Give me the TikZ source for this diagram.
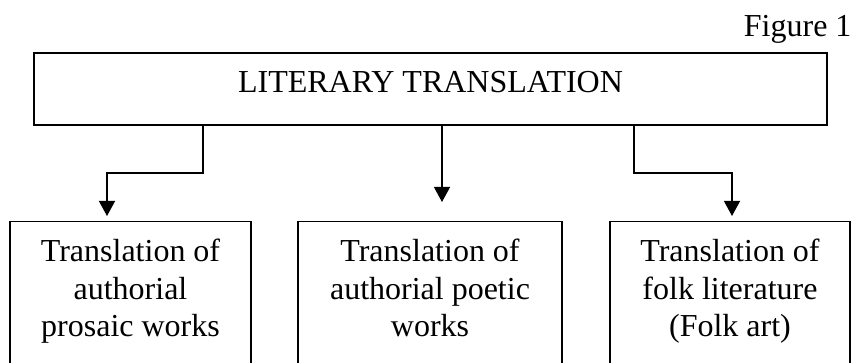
\documentclass[tikz,border=0pt]{standalone}
\usepackage{fontspec}
\setmainfont{Liberation Serif}
\usetikzlibrary{arrows.meta}

\begin{document}
\begin{tikzpicture}[x=1pt, y=-1pt, font=\fontsize{32}{37.5}\selectfont,
        box/.style={draw, line width=1.4pt, align=center, inner sep=0pt},
        arr/.style={line width=1.3pt, -{Triangle[width=16pt,length=15pt]}}]
        \clip (0,0) rectangle (858,363);
        \useasboundingbox (0,0) rectangle (858,363);
        \node[anchor=base east] (fig) at (855,37) {Figure 1};
        \node[box, minimum width=793, minimum height=72, text height=22pt, text depth=14pt] (lit) at (430.5,89) {LITERARY TRANSLATION};
        \node[box, anchor=north, minimum width=241, minimum height=160, text depth=27pt] (prose) at (130.5,221) {Translation of\\ authorial\\ prosaic works};
        \node[box, anchor=north, minimum width=264, minimum height=160, text depth=27pt] (poet) at (430,221) {Translation of\\ authorial poetic\\ works};
        \node[box, anchor=north, minimum width=240, minimum height=160, text depth=27pt] (folk) at (730,221) {Translation of\\ folk literature\\ (Folk art)};
        \draw[arr, shorten >=5pt] (203,0 |- lit.south) -- (203,173) -| (107,0 |- prose.north);
        \draw[arr, shorten >=19pt] (442,0 |- lit.south) -- (442,0 |- poet.north);
        \draw[arr, shorten >=5pt] (634,0 |- lit.south) -- (634,173) -| (732,0 |- folk.north);
    \end{tikzpicture}
\end{document}
